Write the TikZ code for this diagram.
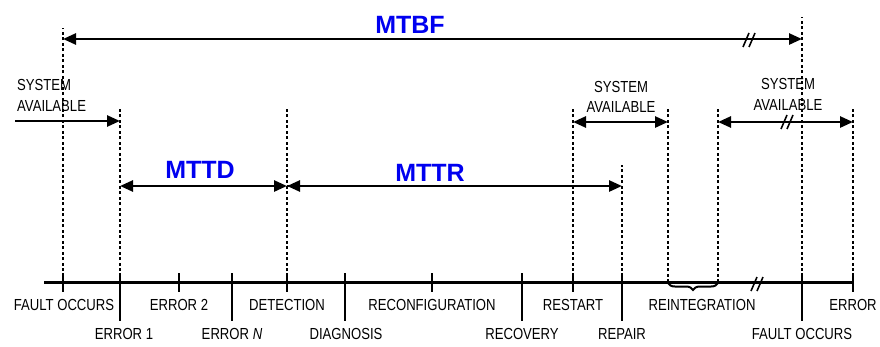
\documentclass[tikz,border=0pt]{standalone}
\usepackage{fontspec}
\setmainfont{Liberation Sans}
\newfontfamily\lblfont[FakeStretch=0.82]{Liberation Sans}
\usetikzlibrary{arrows.meta,decorations.pathreplacing}
\definecolor{mblue}{RGB}{0,0,240}
\begin{document}
\begin{tikzpicture}[x=1pt,y=-1pt,
  axis/.style={line width=3pt},
  tickshort/.style={line width=1.3pt},
  ticklong/.style={line width=1.3pt},
  guide/.style={line width=1.8pt,dash pattern=on 3pt off 2.5pt},
  tip/.style={Triangle[length=13pt,width=11pt]},
  span/.style={line width=2.6pt,{Triangle[length=13pt,width=11pt]}-{Triangle[length=13pt,width=11pt]}},
  spanr/.style={line width=2.6pt,-{Triangle[length=13pt,width=11pt]}},
  spanl/.style={line width=2.6pt,{Triangle[length=13pt,width=11pt]}-},
  lbl/.style={font=\lblfont\fontsize{16}{18}\selectfont,inner sep=0pt,anchor=base},
  bigl/.style={font=\bfseries\fontsize{25}{28}\selectfont,text=mblue,inner sep=0pt,anchor=base},
  pics/breakmark/.style={code={\draw[line width=1.6pt] (-6,7)--(0,-7) (0,7)--(6,-7);}}
]
\useasboundingbox (0,0) rectangle (880,346);

% event positions on the time axis
\coordinate (start) at (44,282);
\coordinate (fo)  at (63,282);
\coordinate (e1)  at (120,282);
\coordinate (e2)  at (179,282);
\coordinate (en)  at (232,282);
\coordinate (det) at (287,282);
\coordinate (dia) at (345,282);
\coordinate (rec) at (432,282);
\coordinate (rcv) at (522,282);
\coordinate (rst) at (573,282);
\coordinate (rep) at (622,282);
\coordinate (ri1) at (668,282);
\coordinate (ri2) at (718,282);
\coordinate (fo2) at (802,282);
\coordinate (err) at (853,282);

% heights of the guides and interval arrows
\coordinate (gtop) at (0,108);
\coordinate (mtbfy) at (0,39);
\coordinate (say) at (0,121);
\coordinate (sa2y) at (0,122);
\coordinate (mttdy) at (0,186);
\coordinate (tshort) at (0,273);
\coordinate (tsb) at (0,292);
\coordinate (tlong) at (0,321);

% dotted guides
\draw[guide] (fo) -- (fo |- 0,28);
\foreach \c in {e1,det,rst,ri1,ri2,err} \draw[guide] (\c) -- (\c |- gtop);
\draw[guide] (rep) -- (rep |- 0,165);
\draw[guide] (fo2) -- (fo2 |- 0,17);

% time axis
\draw[axis] (start) -- (err);
\pic at (757,284) {breakmark};

% ticks
\foreach \c in {fo,e2,det,rec,rst,err} \draw[tickshort] (\c |- tshort) -- (\c |- tsb);
\foreach \c in {e1,en,dia,rcv,rep,fo2} \draw[ticklong] (\c |- tshort) -- (\c |- tlong);

% reintegration brace
\draw[line width=2pt,decorate,decoration={brace,amplitude=7pt,mirror}] (ri1 |- 0,283) -- (ri2 |- 0,283);

% interval arrows
\draw[span] (fo |- mtbfy) -- (fo2 |- mtbfy);
\pic at (749,40) {breakmark};
\coordinate (saleft) at (15,121);
\draw[spanr] (saleft) -- (e1 |- say);
\draw[span] (e1 |- mttdy) -- (det |- mttdy);
\draw[spanr] (det |- mttdy) -- (rep |- mttdy);
\draw[spanl] (det |- mttdy) -- ++(20,0);
\draw[span] (rst |- sa2y) -- (ri1 |- sa2y);
\draw[span] (ri2 |- sa2y) -- (err |- sa2y);
\pic at (787,122) {breakmark};

% interval names
\node[bigl] (lmtbf) at (410,33) {MTBF};
\node[bigl] (lmttd) at (200,178) {MTTD};
\node[bigl] (lmttr) at (430,181) {MTTR};

% availability labels
\node[lbl,anchor=base west] (sa1a) at (17,90) {SYSTEM};
\node[lbl,anchor=base west] (sa1b) at (17,111) {AVAILABLE};
\node[lbl] (sa2a) at (621,92) {SYSTEM};
\node[lbl] (sa2b) at (621,112) {AVAILABLE};
\node[lbl] (sa3a) at (788,89) {SYSTEM};
\node[lbl] (sa3b) at (788,110) {AVAILABLE};

% event labels, upper row
\node[lbl] (lfo)  at (64,310) {FAULT OCCURS};
\node[lbl] (le2)  at (179,310) {ERROR 2};
\node[lbl] (ldet) at (287,310) {DETECTION};
\node[lbl] (lrec) at (432,310) {RECONFIGURATION};
\node[lbl] (lrst) at (573,310) {RESTART};
\node[lbl] (lri)  at (702,310) {REINTEGRATION};
\node[lbl] (lerr) at (853,310) {ERROR};

% event labels, lower row
\node[lbl] (le1)  at (124,339) {ERROR 1};
\node[lbl] (len)  at (232,339) {ERROR \textit{N}};
\node[lbl] (ldia) at (346,339) {DIAGNOSIS};
\node[lbl] (lrcv) at (522,339) {RECOVERY};
\node[lbl] (lrep) at (622,339) {REPAIR};
\node[lbl] (lfo2) at (802,339) {FAULT OCCURS};
\end{tikzpicture}
\end{document}
